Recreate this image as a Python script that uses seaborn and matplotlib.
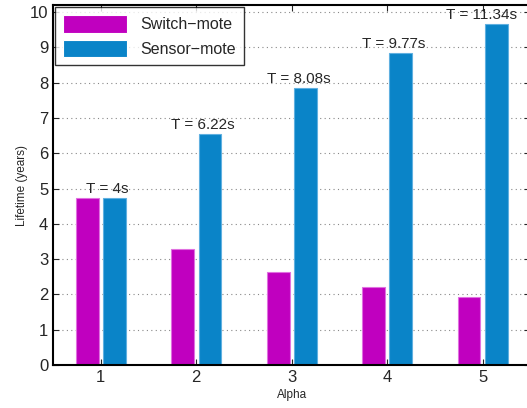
import pandas as pd
import numpy as np
import seaborn as sns
import matplotlib.pyplot as plt

alpha = ['1', '2', '3', '4', '5']
switch_mote = [4.72, 3.28, 2.63, 2.22, 1.94]
sensor_mote = [4.72, 6.55, 7.84, 8.85, 9.67]
periods = ['T = 4s', 'T = 6.22s', 'T = 8.08s', 'T = 9.77s', 'T = 11.34s']

df = pd.DataFrame({
    'Alpha': alpha * 2,
    'Lifetime': switch_mote + sensor_mote,
    'Type': ['Switch\u2212mote'] * 5 + ['Sensor\u2212mote'] * 5,
})

sns.set_style('white')
plt.rcParams['font.family'] = ['Liberation Sans', 'DejaVu Sans']

fig = plt.figure(figsize=(5.27, 4.08), dpi=100)
ax = fig.add_axes([0.1006, 0.1054, 0.906, 0.8823])

ax.set_axisbelow(True)
ax.grid(True, linestyle=(0, (1, 3)), color='#888888', linewidth=0.8)

sns.barplot(data=df, x='Alpha', y='Lifetime', hue='Type',
            palette=['#C000BF', '#0A84C8'], width=0.57, gap=0.165,
            saturation=1, linewidth=0.8, ax=ax)
for bar, c in zip(ax.patches, ['#E070E0'] * 5 + ['#60B0E0'] * 5):
    bar.set_edgecolor(c)

# period labels above the sensor bars
for i, (lab, v) in enumerate(zip(periods, sensor_mote)):
    dx = 0.07 if i < 4 else -0.01
    ax.text(i + dx, v + 0.06, lab, ha='center', va='bottom', fontsize=11)

ax.set_xlim(-0.5, 4.5)
ax.set_ylim(0, 10.2)
ax.set_yticks(range(0, 11))
ax.tick_params(axis='both', labelsize=12, direction='in', length=4,
               top=True, right=True, bottom=True, left=True, width=0.8)
ax.set_xlabel('Alpha', fontsize=8.5, labelpad=3)
ax.set_ylabel('Lifetime (years)', fontsize=8.5, labelpad=1)
for s in ax.spines.values():
    s.set_color('black')
    s.set_linewidth(1.5)

leg = ax.legend(loc='upper left', fontsize=11.5, handlelength=4.0, handleheight=1.3,
                frameon=True, fancybox=False, edgecolor='black',
                borderaxespad=0.15, borderpad=0.5, labelspacing=0.45)
leg.get_frame().set_linewidth(1.0)

fig.savefig('out.png', dpi=100)
